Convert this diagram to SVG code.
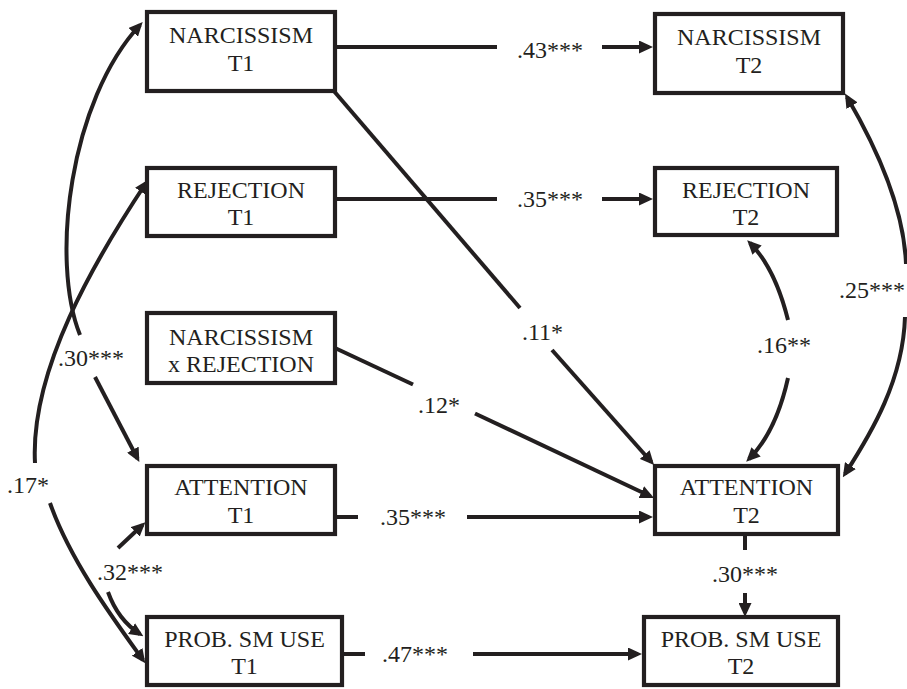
<svg xmlns="http://www.w3.org/2000/svg" width="907" height="689" viewBox="0 0 907 689">
<style>
.box{fill:#fff;stroke:#231f20;stroke-width:4.2}
.t{font-family:"Liberation Serif","Times New Roman",serif;font-size:24px;fill:#231f20}
.c{text-anchor:middle}
.ln{fill:none;stroke:#231f20;stroke-width:4}
.a{marker-end:url(#ah)}
</style>
<defs>
<marker id="ah" viewBox="0 0 14 13" refX="10" refY="6.5" markerWidth="14" markerHeight="13" markerUnits="userSpaceOnUse" orient="auto">
<path d="M0,0 L14,6.5 L0,13 z" fill="#231f20"/>
</marker>
</defs>
<rect width="907" height="689" fill="#fff"/>
<g id="connectors">
<path class="ln" d="M335,47 H497"/>
<path class="ln a" d="M602,47 H649"/>
<path class="ln" d="M335,199 H497"/>
<path class="ln a" d="M602,199 H649"/>
<path class="ln" d="M333,90 L520,308"/>
<path class="ln a" d="M552,350 L651.4,462"/>
<path class="ln" d="M335,348 L413,384.5"/>
<path class="ln a" d="M475,413.5 L650.4,496.3"/>
<path class="ln" d="M335,517 H358"/>
<path class="ln a" d="M467,517 H649"/>
<path class="ln" d="M342,654 H365"/>
<path class="ln a" d="M473,654 H638"/>
<path class="ln" d="M745,534 V550"/>
<path class="ln a" d="M745,593 V613"/>
<path class="ln a" d="M788,320 Q775,268 750,243"/>
<path class="ln a" d="M788,378 Q776,432 749,459"/>
<path class="ln a" d="M906,264 C904,210 878,150 847,97"/>
<path class="ln a" d="M905,317 C903,380 872,432 845,474"/>
<path class="ln a" d="M80,335 C50,260 70,100 140,25"/>
<path class="ln a" d="M95,377 L137.5,458.5"/>
<path class="ln a" d="M35,463 C30,370 95,260 146,183"/>
<path class="ln a" d="M50,503 C70,560 112,617 143,660"/>
<path class="ln a" d="M118,548 L142.5,525"/>
<path class="ln a" d="M108,592 Q118,620 140,634"/>
</g>
<g id="labels" class="t">
<text x="517" y="58">.43***</text>
<text x="517" y="207">.35***</text>
<text x="58" y="366">.30***</text>
<text x="522" y="340">.11*</text>
<text x="418" y="413">.12*</text>
<text x="757" y="353">.16**</text>
<text x="839" y="298">.25***</text>
<text x="7" y="493">.17*</text>
<text x="380" y="525">.35***</text>
<text x="97" y="580">.32***</text>
<text x="382" y="662">.47***</text>
<text x="712" y="582">.30***</text>
</g>
<g id="narc1"><rect class="box" x="147" y="12" width="188" height="79"/><text class="t c" x="241" y="43">NARCISSISM</text><text class="t c" x="241" y="71">T1</text></g>
<g id="rej1"><rect class="box" x="147" y="168" width="188" height="68"/><text class="t c" x="241" y="198">REJECTION</text><text class="t c" x="241" y="225">T1</text></g>
<g id="nxr"><rect class="box" x="147" y="313" width="188" height="70"/><text class="t c" x="241" y="345">NARCISSISM</text><text class="t c" x="241" y="372">x REJECTION</text></g>
<g id="att1"><rect class="box" x="147" y="466" width="188" height="68"/><text class="t c" x="241" y="495">ATTENTION</text><text class="t c" x="241" y="523">T1</text></g>
<g id="psmu1"><rect class="box" x="147" y="617" width="195" height="68"/><text class="t c" x="244.5" y="647">PROB. SM USE</text><text class="t c" x="244.5" y="674">T1</text></g>
<g id="narc2"><rect class="box" x="655" y="14" width="188" height="79"/><text class="t c" x="749" y="45">NARCISSISM</text><text class="t c" x="749" y="73">T2</text></g>
<g id="rej2"><rect class="box" x="655" y="168" width="182" height="67"/><text class="t c" x="746" y="198">REJECTION</text><text class="t c" x="746" y="225">T2</text></g>
<g id="att2"><rect class="box" x="655" y="466" width="183" height="68"/><text class="t c" x="746.5" y="495">ATTENTION</text><text class="t c" x="746.5" y="523">T2</text></g>
<g id="psmu2"><rect class="box" x="644" y="617" width="194" height="68"/><text class="t c" x="741" y="647">PROB. SM USE</text><text class="t c" x="741" y="674">T2</text></g>
</svg>
